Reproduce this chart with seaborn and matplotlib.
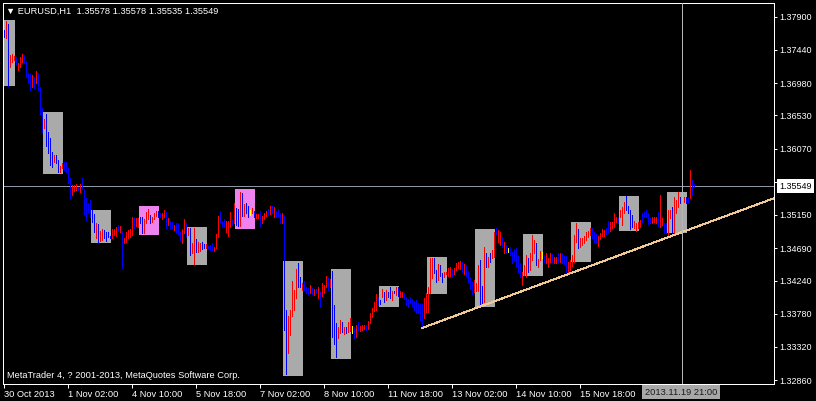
import numpy as np
import pandas as pd
import matplotlib
matplotlib.use("Agg")
import matplotlib.pyplot as plt
import matplotlib.transforms as mtransforms
import seaborn as sns

# ---------------- data ----------------
symbol_title = "\u25bc EURUSD,H1  1.35578 1.35578 1.35535 1.35549"
copyright_txt = "MetaTrader 4, ? 2001-2013, MetaQuotes Software Corp."

highs = [
    1.3772, 1.3784, 1.3780, 1.3737, 1.3738, 1.3736, 1.3734, 1.3726, 1.3734, 1.3738,
    1.3737, 1.3729, 1.3712, 1.3711, 1.3709, 1.3706, 1.3715, 1.3712, 1.3693, 1.3663,
    1.3648, 1.3655, 1.3630, 1.3622, 1.3602, 1.3598, 1.3598, 1.3591, 1.3583, 1.3587,
    1.3589, 1.3589, 1.3580, 1.3566, 1.3557, 1.3557, 1.3558, 1.3554, 1.3558, 1.3566,
    1.3551, 1.3539, 1.3532, 1.3536, 1.3522, 1.3516, 1.3504, 1.3503, 1.3493, 1.3496,
    1.3494, 1.3491, 1.3491, 1.3486, 1.3496, 1.3496, 1.3498, 1.3501, 1.3500, 1.3493,
    1.3483, 1.3491, 1.3494, 1.3496, 1.3512, 1.3512, 1.3511, 1.3511, 1.3512, 1.3512,
    1.3509, 1.3519, 1.3523, 1.3515, 1.3512, 1.3518, 1.3521, 1.3521, 1.3518, 1.3518,
    1.3522, 1.3519, 1.3511, 1.3507, 1.3505, 1.3501, 1.3504, 1.3504, 1.3491, 1.3496,
    1.3509, 1.3504, 1.3497, 1.3497, 1.3476, 1.3497, 1.3482, 1.3478, 1.3476, 1.3478,
    1.3475, 1.3475, 1.3472, 1.3473, 1.3476, 1.3471, 1.3489, 1.3514, 1.3521, 1.3507,
    1.3509, 1.3507, 1.3507, 1.3519, 1.3509, 1.3532, 1.3525, 1.3523, 1.3547, 1.3546,
    1.3530, 1.3532, 1.3528, 1.3522, 1.3525, 1.3521, 1.3516, 1.3516, 1.3521, 1.3514,
    1.3518, 1.3521, 1.3523, 1.3528, 1.3528, 1.3526, 1.3521, 1.3523, 1.3518, 1.3518,
    1.3515, 1.3383, 1.3375, 1.3383, 1.3423, 1.3411, 1.3440, 1.3448, 1.3429, 1.3421,
    1.3423, 1.3415, 1.3414, 1.3418, 1.3414, 1.3412, 1.3412, 1.3415, 1.3410, 1.3421,
    1.3418, 1.3430, 1.3428, 1.3426, 1.3437, 1.3390, 1.3365, 1.3360, 1.3369, 1.3367,
    1.3360, 1.3360, 1.3367, 1.3372, 1.3361, 1.3360, 1.3362, 1.3367, 1.3361, 1.3362,
    1.3362, 1.3362, 1.3368, 1.3379, 1.3386, 1.3394, 1.3405, 1.3401, 1.3397, 1.3412,
    1.3408, 1.3411, 1.3408, 1.3415, 1.3410, 1.3410, 1.3415, 1.3415, 1.3410, 1.3408,
    1.3407, 1.3401, 1.3399, 1.3401, 1.3399, 1.3396, 1.3397, 1.3393, 1.3392, 1.3392,
    1.3400, 1.3407, 1.3415, 1.3455, 1.3455, 1.3455, 1.3439, 1.3447, 1.3446, 1.3435,
    1.3436, 1.3436, 1.3442, 1.3443, 1.3440, 1.3442, 1.3448, 1.3450, 1.3451, 1.3450,
    1.3447, 1.3444, 1.3437, 1.3429, 1.3422, 1.3425, 1.3421, 1.3446, 1.3453, 1.3417,
    1.3471, 1.3462, 1.3457, 1.3462, 1.3466, 1.3491, 1.3497, 1.3494, 1.3491, 1.3485,
    1.3478, 1.3473, 1.3469, 1.3471, 1.3464, 1.3468, 1.3469, 1.3458, 1.3448, 1.3436,
    1.3446, 1.3460, 1.3455, 1.3462, 1.3487, 1.3480, 1.3476, 1.3454, 1.3465, 1.3464,
    1.3460, 1.3462, 1.3455, 1.3462, 1.3461, 1.3457, 1.3457, 1.3462, 1.3462, 1.3462,
    1.3458, 1.3458, 1.3450, 1.3453, 1.3460, 1.3487, 1.3504, 1.3496, 1.3483, 1.3483,
    1.3486, 1.3491, 1.3493, 1.3497, 1.3497, 1.3491, 1.3489, 1.3486, 1.3490, 1.3496,
    1.3494, 1.3497, 1.3507, 1.3505, 1.3505, 1.3518, 1.3512, 1.3512, 1.3522, 1.3526,
    1.3533, 1.3541, 1.3528, 1.3522, 1.3515, 1.3507, 1.3504, 1.3505, 1.3508, 1.3518,
    1.3519, 1.3522, 1.3518, 1.3511, 1.3512, 1.3512, 1.3512, 1.3519, 1.3543, 1.3511,
    1.3504, 1.3504, 1.3522, 1.3522, 1.3526, 1.3540, 1.3536, 1.3547, 1.3540, 1.3540,
    1.3540, 1.3540, 1.3540, 1.3577, 1.3564, 1.35578,
]

lows = [
    1.3762, 1.3761, 1.3694, 1.3720, 1.3727, 1.3730, 1.3723, 1.3716, 1.3720, 1.3727,
    1.3726, 1.3706, 1.3698, 1.3688, 1.3693, 1.3691, 1.3698, 1.3688, 1.3654, 1.3630,
    1.3636, 1.3611, 1.3601, 1.3584, 1.3582, 1.3589, 1.3587, 1.3575, 1.3575, 1.3580,
    1.3577, 1.3575, 1.3559, 1.3539, 1.3543, 1.3548, 1.3550, 1.3550, 1.3547, 1.3551,
    1.3516, 1.3508, 1.3519, 1.3512, 1.3505, 1.3491, 1.3483, 1.3478, 1.3479, 1.3480,
    1.3483, 1.3479, 1.3485, 1.3483, 1.3483, 1.3487, 1.3486, 1.3493, 1.3491, 1.3442,
    1.3476, 1.3478, 1.3483, 1.3485, 1.3487, 1.3497, 1.3500, 1.3498, 1.3504, 1.3490,
    1.3490, 1.3504, 1.3509, 1.3504, 1.3505, 1.3509, 1.3514, 1.3512, 1.3512, 1.3509,
    1.3512, 1.3497, 1.3501, 1.3496, 1.3497, 1.3494, 1.3490, 1.3489, 1.3480, 1.3476,
    1.3490, 1.3485, 1.3487, 1.3460, 1.3462, 1.3447, 1.3464, 1.3464, 1.3465, 1.3468,
    1.3469, 1.3469, 1.3469, 1.3466, 1.3466, 1.3465, 1.3469, 1.3485, 1.3505, 1.3498,
    1.3498, 1.3491, 1.3486, 1.3498, 1.3501, 1.3504, 1.3501, 1.3500, 1.3500, 1.3514,
    1.3514, 1.3518, 1.3512, 1.3515, 1.3518, 1.3512, 1.3511, 1.3511, 1.3498, 1.3504,
    1.3509, 1.3514, 1.3515, 1.3516, 1.3518, 1.3512, 1.3512, 1.3514, 1.3504, 1.3504,
    1.3356, 1.3294, 1.3324, 1.3349, 1.3375, 1.3383, 1.3400, 1.3415, 1.3415, 1.3411,
    1.3411, 1.3407, 1.3404, 1.3407, 1.3405, 1.3404, 1.3407, 1.3400, 1.3387, 1.3403,
    1.3407, 1.3415, 1.3411, 1.3415, 1.3346, 1.3336, 1.3318, 1.3344, 1.3351, 1.3353,
    1.3350, 1.3351, 1.3353, 1.3354, 1.3351, 1.3344, 1.3346, 1.3356, 1.3354, 1.3356,
    1.3357, 1.3356, 1.3357, 1.3365, 1.3374, 1.3382, 1.3383, 1.3390, 1.3392, 1.3401,
    1.3394, 1.3397, 1.3401, 1.3400, 1.3397, 1.3407, 1.3404, 1.3403, 1.3401, 1.3401,
    1.3399, 1.3390, 1.3387, 1.3393, 1.3389, 1.3383, 1.3379, 1.3379, 1.3369, 1.3360,
    1.3372, 1.3380, 1.3380, 1.3407, 1.3428, 1.3434, 1.3422, 1.3425, 1.3430, 1.3422,
    1.3429, 1.3433, 1.3430, 1.3430, 1.3429, 1.3433, 1.3439, 1.3442, 1.3440, 1.3436,
    1.3433, 1.3430, 1.3422, 1.3412, 1.3405, 1.3408, 1.3410, 1.3410, 1.3390, 1.3390,
    1.3394, 1.3443, 1.3443, 1.3450, 1.3455, 1.3457, 1.3489, 1.3478, 1.3473, 1.3471,
    1.3462, 1.3462, 1.3464, 1.3460, 1.3448, 1.3453, 1.3443, 1.3436, 1.3429, 1.3418,
    1.3432, 1.3429, 1.3436, 1.3439, 1.3453, 1.3462, 1.3446, 1.3443, 1.3453, 1.3455,
    1.3450, 1.3448, 1.3443, 1.3450, 1.3450, 1.3448, 1.3448, 1.3448, 1.3450, 1.3448,
    1.3447, 1.3434, 1.3433, 1.3439, 1.3444, 1.3450, 1.3478, 1.3469, 1.3471, 1.3473,
    1.3476, 1.3480, 1.3485, 1.3487, 1.3483, 1.3478, 1.3476, 1.3472, 1.3482, 1.3486,
    1.3486, 1.3489, 1.3490, 1.3493, 1.3497, 1.3498, 1.3505, 1.3504, 1.3512, 1.3501,
    1.3518, 1.3522, 1.3518, 1.3496, 1.3498, 1.3497, 1.3493, 1.3497, 1.3498, 1.3505,
    1.3512, 1.3512, 1.3503, 1.3504, 1.3504, 1.3505, 1.3504, 1.3500, 1.3498, 1.3501,
    1.3490, 1.3490, 1.3486, 1.3511, 1.3491, 1.3490, 1.3518, 1.3526, 1.3532, 1.3532,
    1.3533, 1.3532, 1.3532, 1.3539, 1.3543, 1.35535,
]

# r = up bar, b = down bar, y = doji
bar_kinds = (
    "brbrrrbrrr" "bbbbrbrbbb" "rbbbbrbbrr" "bbbbrrrbrb" "bbbbbbrbrr"
    "bbbbrrrbrb" "rrrrrbrrbb" "rrrbrrrbbr" "rbrbbrbbbr" "rbrbrrbrrb"
    "brbbbrrrbb" "brrrbrbbrb" "rbbyrbrrbr" "rrbrbrbbbr" "bbrrrrrbbr"
    "bbbrbrbrbr" "rrbrbbbrrb" "rbrrybrbrr" "rbrrrrrbbr" "brbbrbrbrr"
    "bbbbbbbbbb" "rrrrrbbrbb" "rrrrbrrrrb" "rbbbbrrrbb" "rbrbrrbrrb"
    "rbybbbbbbr" "rrbrrrbrry" "brrrbrrbrb" "bbrrrrrbrr" "rrrrbbbrrr"
    "rbbrrrrbrr" "rbbbbrrrrb" "bbbbrrrbrr" "bbrrbrrrbr" "rbbrbb"
)

# daily session boxes: first bar index, top price, bottom price, kind
box_start = [-4, 20, 44, 68, 92, 116, 140, 164, 188, 212, 236, 260, 284, 308, 332]
box_top = [1.3785, 1.3658, 1.3522, 1.3527, 1.3498, 1.3551, 1.3451, 1.3440,
           1.3417, 1.3457, 1.3496, 1.3489, 1.3505, 1.3541, 1.3547]
box_bottom = [1.3694, 1.3572, 1.3476, 1.3487, 1.3446, 1.3496, 1.3292, 1.3315,
              1.3387, 1.3405, 1.3387, 1.3430, 1.3450, 1.3493, 1.3490]
box_kind = ["g", "g", "g", "p", "g", "p", "g", "g", "g", "g", "g", "g", "g", "g", "g"]

# trend line (bar index, price)
trend_x = [209, 385]
trend_y = [1.3358, 1.3538]

bid_price = 1.35549
cursor_bar = 339
cursor_label = "2013.11.19 21:00"

# the label of the last tick (19 Nov 02:00) is hidden under the cursor label
xtick_bars = [0, 32, 64, 96, 128, 160, 192, 224, 256, 288, 320]
xtick_labels = ["30 Oct 2013", "1 Nov 02:00", "4 Nov 10:00", "5 Nov 18:00",
                "7 Nov 02:00", "8 Nov 10:00", "11 Nov 18:00", "13 Nov 02:00",
                "14 Nov 10:00", "15 Nov 18:00", ""]

ytick_vals = [1.3790, 1.3744, 1.3698, 1.3653, 1.3607, 1.3561,
              1.3515, 1.3469, 1.3424, 1.3378, 1.3332, 1.3286]
ytick_labels = ["1.37900", "1.37440", "1.36980", "1.36530", "1.36070", "1.35610",
                "1.35150", "1.34690", "1.34240", "1.33780", "1.33320", "1.32860"]

# ---------------- styling ----------------
sns.set_theme(style="dark", rc={"axes.facecolor": "black",
                                "figure.facecolor": "black"})
plt.rcParams["font.family"] = ["Liberation Sans", "DejaVu Sans"]

kind_color = {"r": "#FF0000", "b": "#0000FF", "y": "#FFFF00"}
box_color = {"g": "#AAAAAA", "p": "#EE82EE"}
LW = 0.72  # one pixel

W, H = 816, 401
fig = plt.figure(figsize=(W / 100, H / 100), dpi=100, facecolor="black")
ax = fig.add_axes([2.5 / W, (H - 383.5) / H, 771 / W, 381 / H])
ax.set_facecolor("black")
ax.grid(False)

bars = pd.DataFrame({
    "bar": np.arange(len(highs)),
    "high": highs,
    "low": lows,
    "kind": list(bar_kinds),
})

# session boxes
bstart = np.array(box_start, dtype=float)
btop = np.array(box_top)
bbot = np.array(box_bottom)
ax.bar(bstart - 0.25, btop - bbot, bottom=bbot, width=10, align="edge",
       color=[box_color[k] for k in box_kind], linewidth=0,
       antialiased=False, zorder=2)

# bid line
ax.axhline(bid_price, color="#8C96A6", lw=LW, antialiased=False, snap=True, zorder=2.5)

# bars
ax.vlines(bars["bar"], bars["low"], bars["high"],
          colors=[kind_color[k] for k in bars["kind"]],
          linewidth=LW, antialiased=False, snap=True, zorder=3)

# trend line
sns.lineplot(x=trend_x, y=trend_y, ax=ax, color="#F2C896", lw=LW,
             antialiased=False, zorder=4)

# vertical cursor line
ax.axvline(cursor_bar, color="#B4B4B4", lw=LW, antialiased=False, snap=True, zorder=4)

ax.set_xlim(-0.5, 385)
ax.set_ylim(1.32813, 1.38097)

# axes / ticks
ax.yaxis.tick_right()
ax.set_yticks(ytick_vals)
ax.set_yticklabels(ytick_labels)
ax.set_xticks(xtick_bars)
ax.set_xticklabels(xtick_labels)
for t in ax.get_xticklabels():
    t.set_horizontalalignment("left")
ax.tick_params(axis="y", colors="white", length=2.2, width=LW, pad=2.0,
               labelsize=6.5, direction="out", right=True, left=False)
ax.tick_params(axis="x", colors="white", length=3.0, width=LW, pad=1.5,
               labelsize=6.7, direction="out", bottom=True)
ax.set_xlabel("")
ax.set_ylabel("")
for s in ax.spines.values():
    s.set_visible(True)
    s.set_color("white")
    s.set_linewidth(LW)
    s.set_antialiased(False)

# texts
ax.text(0.0045, 0.978, symbol_title, transform=ax.transAxes, color="white",
        fontsize=6.7, ha="left", va="center", zorder=10)
ax.text(0.0058, 0.020, copyright_txt, transform=ax.transAxes, color="white",
        fontsize=6.7, ha="left", va="center", zorder=10)

ytrans = mtransforms.blended_transform_factory(ax.transAxes, ax.transData)
ax.text(1.0076, bid_price, f"{bid_price:.5f}", transform=ytrans, color="black",
        fontsize=6.5, ha="left", va="center", zorder=10, clip_on=False,
        bbox=dict(boxstyle="square,pad=0.25", facecolor="white", edgecolor="none"))

xtrans = mtransforms.blended_transform_factory(ax.transData, ax.transAxes)
ax.text(cursor_bar - 0.25, -0.0225, cursor_label, transform=xtrans, color="#1A1A1A",
        fontsize=6.7, ha="center", va="center", zorder=10, clip_on=False,
        bbox=dict(boxstyle="square,pad=0.25", facecolor="#A8A8A8", edgecolor="none"))

fig.savefig("out.png", dpi=100, facecolor="black")
